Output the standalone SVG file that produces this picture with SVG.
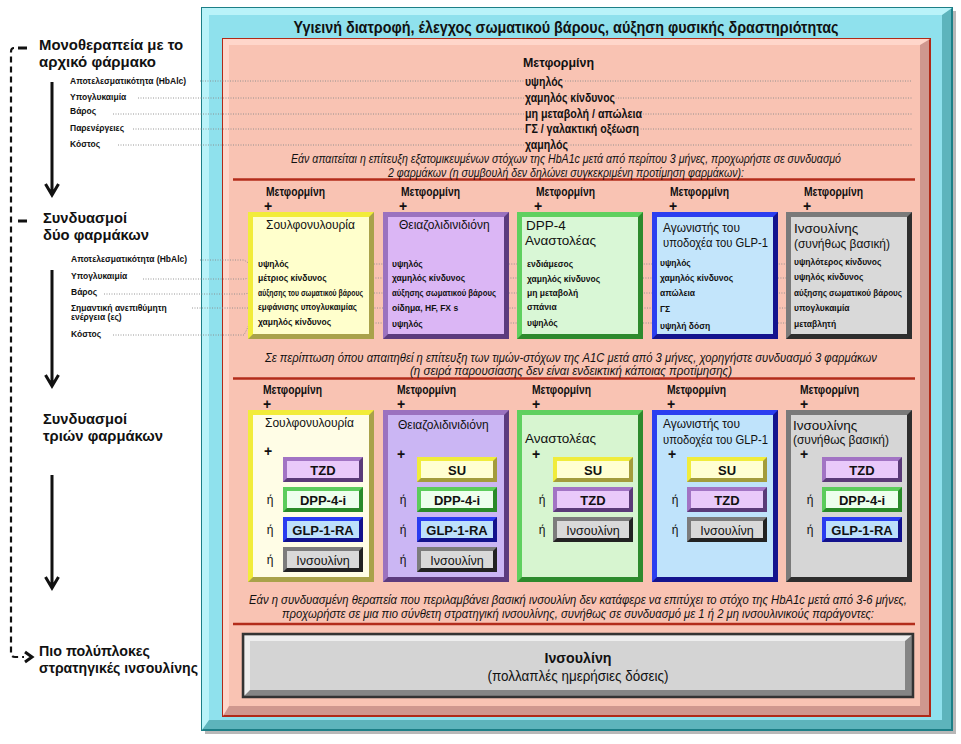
<svg xmlns="http://www.w3.org/2000/svg" width="961" height="744" viewBox="0 0 961 744">
<defs>
<style>
.s{font-family:"Liberation Sans",Arial,sans-serif;fill:#111}
.n{font-family:"Liberation Sans Narrow","Liberation Sans",Arial,sans-serif;fill:#111}
.b{font-weight:bold}
.i{font-style:italic}
.m{text-anchor:middle}
.stg{font-family:"Liberation Sans",Arial,sans-serif;font-weight:bold;font-size:15px;fill:#111}
.lb{font-family:"Liberation Sans",Arial,sans-serif;font-weight:bold;font-size:8.5px;fill:#111;stroke:#fff;stroke-width:3;paint-order:stroke;stroke-linejoin:round}
.mv{font-family:"Liberation Sans Narrow","Liberation Sans",Arial,sans-serif;font-weight:bold;font-size:12px;fill:#111;stroke:#f9c3b3;stroke-width:4;paint-order:stroke;stroke-linejoin:round}
.v{font-family:"Liberation Sans",Arial,sans-serif;font-weight:bold;font-size:8.5px;fill:#111;stroke:var(--f);stroke-width:3;paint-order:stroke;stroke-linejoin:round}
.met{font-family:"Liberation Sans Narrow","Liberation Sans",Arial,sans-serif;font-weight:bold;font-size:12px;fill:#111}
.pl{font-family:"Liberation Sans",Arial,sans-serif;font-weight:bold;font-size:14px;fill:#111;text-anchor:middle}
.or{font-family:"Liberation Sans",Arial,sans-serif;font-size:12px;fill:#111;text-anchor:middle}
.sb{font-family:"Liberation Sans",Arial,sans-serif;font-weight:bold;font-size:13px;fill:#111;text-anchor:middle}
.si2{font-family:"Liberation Sans",Arial,sans-serif;font-size:12.5px;fill:#111;text-anchor:middle}
.d{fill:var(--d)}
.l{fill:var(--l)}
.f{fill:var(--f)}
.y2{--d:#a9a24a;--l:#f2ec3a;--f:#ffffcc}
.p2{--d:#5c3b7e;--l:#9b72bf;--f:#dbb6f5}
.g2{--d:#2d8a2d;--l:#5fd05f;--f:#d9f7d6}
.b2{--d:#14148e;--l:#2c3ef0;--f:#c3e5fb}
.k2{--d:#2e2e2e;--l:#7a7a7a;--f:#d9d9d9}
.y3{--d:#a9a24a;--l:#f2ec3a;--f:#fffde6}
.p3{--d:#5c3b7e;--l:#9b72bf;--f:#cbb6f4}
.g3{--d:#2d8a2d;--l:#5fd05f;--f:#d7f5d0}
.b3{--d:#14148e;--l:#2c3ef0;--f:#bfe3fb}
.k3{--d:#2e2e2e;--l:#7a7a7a;--f:#d6d6d6}
.st{--d:#5a3a78;--l:#a274c4;--f:#e9c9fa}
.su{--d:#a39c3c;--l:#f0ec3c;--f:#ffffd2}
.sd{--d:#2a8a2a;--l:#5ccc5c;--f:#edffed}
.sg{--d:#12128c;--l:#2a3cf0;--f:#bde0fb}
.si{--d:#222222;--l:#7c7c7c;--f:#d9d9d9}
.dot{fill:none;stroke:#8a8a8a;stroke-width:0.9;stroke-dasharray:1 1.5}
.sep{stroke:#b32c1b;stroke-width:2.5}
.arr{fill:none;stroke:#111;stroke-width:3}
</style>
</defs>
<rect width="961" height="744" fill="#fff"/>

<g id="frame">
<rect x="205" y="11" width="751" height="723" fill="#b8b8b8"/>
<rect x="202" y="8" width="750" height="722" fill="#5db4bc" stroke="#1d7f87" stroke-width="2"/>
<polygon points="202,8 952,8 942,15 209,15 209,720 202,730" fill="#b9f3f9"/>
<rect x="209" y="15" width="733" height="705" fill="#8fe1ed"/>
<text class="n b m" x="566" y="33" font-size="16" textLength="545" lengthAdjust="spacingAndGlyphs">Υγιεινή διατροφή, έλεγχος σωματικού βάρους, αύξηση φυσικής δραστηριότητας</text>
</g>

<g id="main-panel">
<rect x="223" y="39" width="707" height="677" fill="#cf978e" stroke="#b02a18" stroke-width="2"/>
<polygon points="223,39 930,39 920,45 229,45 229,706 223,716" fill="#ffd6ca"/>
<rect x="229" y="45" width="691" height="661" fill="#f9c3b3"/>
<line class="sep" x1="233" y1="179.5" x2="915" y2="179.5"/>
<line class="sep" x1="233" y1="378.5" x2="915" y2="378.5"/>
<line class="sep" x1="233" y1="624" x2="915" y2="624"/>
</g>

<g id="stage-labels">
<text class="stg" x="39" y="50" textLength="144" lengthAdjust="spacingAndGlyphs">Μονοθεραπεία με το</text>
<text class="stg" x="39" y="67" textLength="117" lengthAdjust="spacingAndGlyphs">αρχικό φάρμακο</text>
<text class="stg" x="43" y="223" textLength="84" lengthAdjust="spacingAndGlyphs">Συνδυασμοί</text>
<text class="stg" x="43" y="240" textLength="106" lengthAdjust="spacingAndGlyphs">δύο φαρμάκων</text>
<text class="stg" x="43" y="424" textLength="84" lengthAdjust="spacingAndGlyphs">Συνδυασμοί</text>
<text class="stg" x="43" y="441" textLength="120" lengthAdjust="spacingAndGlyphs">τριών φαρμάκων</text>
<text class="stg" x="39" y="656" textLength="111" lengthAdjust="spacingAndGlyphs">Πιο πολύπλοκες</text>
<text class="stg" x="39" y="673" textLength="159" lengthAdjust="spacingAndGlyphs">στρατηγικές ινσουλίνης</text>
</g>

<g id="connectors">
<path d="M18,48 H27 M18,221 H27" class="arr" stroke-width="2.5"/>
<path d="M14,48 Q11,48 11,52 V653 Q11,657 15,657 H24" fill="none" stroke="#111" stroke-width="2.2" stroke-dasharray="6 4"/>
<path d="M25,652 L32,657 L25,662" class="arr" stroke-width="2.5"/>
<path d="M52,82 V194 M45.5,184 L52,195 L58.5,184" class="arr"/>
<path d="M52,270 V385 M45.5,375 L52,386 L58.5,375" class="arr"/>
<path d="M52,475 V587 M45.5,577 L52,588 L58.5,577" class="arr"/>
<polyline class="dot" points="200,81 912,81"/>
<polyline class="dot" points="138,98 912,98"/>
<polyline class="dot" points="113,114 912,114"/>
<polyline class="dot" points="133,129 912,129"/>
<polyline class="dot" points="118,145 912,145"/>
<polyline class="dot" points="200,260 244,260 250,264 906,264"/>
<polyline class="dot" points="143,279 244,279 250,278 906,278"/>
<polyline class="dot" points="104,294 244,294 250,293 906,293"/>
<polyline class="dot" points="192,308 906,308"/>
<polyline class="dot" points="113,335 244,335 250,323 906,323"/>
</g>

<g id="criteria-mono">
<text class="lb" x="70" y="84">Αποτελεσματικότητα (HbAlc)</text>
<text class="lb" x="70" y="100">Υπογλυκαιμία</text>
<text class="lb" x="70" y="113.5">Βάρος</text>
<text class="lb" x="70" y="131">Παρενέργειες</text>
<text class="lb" x="70" y="147">Κόστος</text>
</g>

<g id="criteria-dual">
<text class="lb" x="71" y="262">Αποτελεσματικότητα (HbAlc)</text>
<text class="lb" x="71" y="279">Υπογλυκαιμία</text>
<text class="lb" x="71" y="295">Βάρος</text>
<text class="lb" x="71" y="311">Σημαντική ανεπιθύμητη</text>
<text class="lb" x="71" y="319.5">ενέργεια (ες)</text>
<text class="lb" x="71" y="337">Κόστος</text>
</g>

<g id="metformin">
<text class="n b" x="523" y="66.5" font-size="13" textLength="71" lengthAdjust="spacingAndGlyphs">Μετφορμίνη</text>
<text class="mv" x="525" y="86" textLength="38" lengthAdjust="spacingAndGlyphs">υψηλός</text>
<text class="mv" x="525" y="102" textLength="90" lengthAdjust="spacingAndGlyphs">χαμηλός κίνδυνος</text>
<text class="mv" x="525" y="118" textLength="117" lengthAdjust="spacingAndGlyphs">μη μεταβολή / απώλεια</text>
<text class="mv" x="525" y="133" textLength="114" lengthAdjust="spacingAndGlyphs">ΓΣ / γαλακτική οξέωση</text>
<text class="mv" x="525" y="149" textLength="43" lengthAdjust="spacingAndGlyphs">χαμηλός</text>
<text class="n i m" x="566" y="163" font-size="12.5" textLength="550" lengthAdjust="spacingAndGlyphs">Εάν απαιτείται η επίτευξη εξατομικευμένων στόχων της HbA1c μετά από περίπου 3 μήνες, προχωρήστε σε συνδυασμό</text>
<text class="n i m" x="566" y="176.5" font-size="12.5" textLength="356" lengthAdjust="spacingAndGlyphs">2 φαρμάκων (η συμβουλή δεν δηλώνει συγκεκριμένη προτίμηση φαρμάκων):</text>
</g>

<g id="dual-header">
<text class="met" x="266" y="196" textLength="59" lengthAdjust="spacingAndGlyphs">Μετφορμίνη</text>
<text class="met" x="401" y="196" textLength="59" lengthAdjust="spacingAndGlyphs">Μετφορμίνη</text>
<text class="met" x="536" y="196" textLength="59" lengthAdjust="spacingAndGlyphs">Μετφορμίνη</text>
<text class="met" x="670" y="196" textLength="59" lengthAdjust="spacingAndGlyphs">Μετφορμίνη</text>
<text class="met" x="804" y="196" textLength="59" lengthAdjust="spacingAndGlyphs">Μετφορμίνη</text>
<text class="pl" x="268" y="211">+</text>
<text class="pl" x="403" y="211">+</text>
<text class="pl" x="538" y="211">+</text>
<text class="pl" x="673" y="211">+</text>
<text class="pl" x="807" y="211">+</text>
</g>

<g id="dual-su" class="y2">
<g transform="translate(248,212)"><rect class="d" width="126" height="127"/><polygon class="l" points="0,0 126,0 121,5 5,5 5,122 0,127"/><rect class="f" x="5" y="5" width="116" height="117"/></g>
<text class="s" x="266" y="229" font-size="12">Σουλφονυλουρία</text>
<text class="v" x="258" y="267">υψηλός</text>
<text class="v" x="258" y="281">μέτριος κίνδυνος</text>
<text class="v" x="258" y="296" font-size="7.5" textLength="105" lengthAdjust="spacingAndGlyphs">αύξησης του σωματικού βάρους</text>
<text class="v" x="258" y="310" font-size="7.5" textLength="99" lengthAdjust="spacingAndGlyphs">εμφάνισης υπογλυκαιμίας</text>
<text class="v" x="258" y="325">χαμηλός κίνδυνος</text>
</g>

<g id="dual-tzd" class="p2">
<g transform="translate(383,212)"><rect class="d" width="126" height="127"/><polygon class="l" points="0,0 126,0 121,5 5,5 5,122 0,127"/><rect class="f" x="5" y="5" width="116" height="117"/></g>
<text class="s" x="399" y="229" font-size="12">Θειαζολιδινιδιόνη</text>
<text class="v" x="392" y="267">υψηλός</text>
<text class="v" x="392" y="281">χαμηλός κίνδυνος</text>
<text class="v" x="392" y="296" font-size="7.5" textLength="104" lengthAdjust="spacingAndGlyphs">αύξησης σωματικού βάρους</text>
<text class="v" x="392" y="311">οίδημα, HF, FX s</text>
<text class="v" x="392" y="327">υψηλός</text>
</g>

<g id="dual-dpp4" class="g2">
<g transform="translate(517,212)"><rect class="d" width="126" height="127"/><polygon class="l" points="0,0 126,0 121,5 5,5 5,122 0,127"/><rect class="f" x="5" y="5" width="116" height="117"/></g>
<text class="s" x="526" y="230" font-size="13.5">DPP-4</text>
<text class="s" x="525" y="245" font-size="13.5">Αναστολέας</text>
<text class="v" x="527" y="267">ενδιάμεσος</text>
<text class="v" x="527" y="282">χαμηλός κίνδυνος</text>
<text class="v" x="527" y="296">μη μεταβολή</text>
<text class="v" x="527" y="310">σπάνια</text>
<text class="v" x="527" y="326">υψηλός</text>
</g>

<g id="dual-glp1" class="b2">
<g transform="translate(652,212)"><rect class="d" width="126" height="127"/><polygon class="l" points="0,0 126,0 121,5 5,5 5,122 0,127"/><rect class="f" x="5" y="5" width="116" height="117"/></g>
<text class="s" x="663" y="232" font-size="13" textLength="77" lengthAdjust="spacingAndGlyphs">Αγωνιστής του</text>
<text class="s" x="663" y="247" font-size="13" textLength="105" lengthAdjust="spacingAndGlyphs">υποδοχέα του GLP-1</text>
<text class="v" x="660" y="266">υψηλός</text>
<text class="v" x="660" y="281">χαμηλός κίνδυνος</text>
<text class="v" x="660" y="296">απώλεια</text>
<text class="v" x="660" y="312">ΓΣ</text>
<text class="v" x="660" y="329">υψηλή δόση</text>
</g>

<g id="dual-insulin" class="k2">
<g transform="translate(786,212)"><rect class="d" width="126" height="127"/><polygon class="l" points="0,0 126,0 121,5 5,5 5,122 0,127"/><rect class="f" x="5" y="5" width="116" height="117"/></g>
<text class="s" x="794" y="233" font-size="13.5">Ινσουλίνης</text>
<text class="s" x="794" y="247.5" font-size="13.5" textLength="96" lengthAdjust="spacingAndGlyphs">(συνήθως βασική)</text>
<text class="v" x="794" y="265">υψηλότερος κίνδυνος</text>
<text class="v" x="794" y="280">υψηλός κίνδυνος</text>
<text class="v" x="794" y="296" font-size="7.5" textLength="108" lengthAdjust="spacingAndGlyphs">αύξησης σωματικού βάρους</text>
<text class="v" x="794" y="311">υπογλυκαιμία</text>
<text class="v" x="794" y="327">μεταβλητή</text>
</g>

<g id="triple-note">
<text class="n i m" x="571" y="362" font-size="12.5" textLength="612" lengthAdjust="spacingAndGlyphs">Σε περίπτωση όπου απαιτηθεί η επίτευξη των τιμών-στόχων της A1C μετά από 3 μήνες, χορηγήστε συνδυασμό 3 φαρμάκων</text>
<text class="n i m" x="571" y="375" font-size="12.5" textLength="322" lengthAdjust="spacingAndGlyphs">(η σειρά παρουσίασης δεν είναι ενδεικτική κάποιας προτίμησης)</text>
</g>

<g id="triple-header">
<text class="met" x="263" y="394" textLength="59" lengthAdjust="spacingAndGlyphs">Μετφορμίνη</text>
<text class="met" x="397" y="394" textLength="59" lengthAdjust="spacingAndGlyphs">Μετφορμίνη</text>
<text class="met" x="532" y="394" textLength="59" lengthAdjust="spacingAndGlyphs">Μετφορμίνη</text>
<text class="met" x="667" y="394" textLength="59" lengthAdjust="spacingAndGlyphs">Μετφορμίνη</text>
<text class="met" x="800" y="394" textLength="59" lengthAdjust="spacingAndGlyphs">Μετφορμίνη</text>
<text class="pl" x="267" y="408.5">+</text>
<text class="pl" x="401" y="408.5">+</text>
<text class="pl" x="536" y="408.5">+</text>
<text class="pl" x="671" y="408.5">+</text>
<text class="pl" x="804" y="408.5">+</text>
</g>

<g id="triple-su" class="y3">
<g transform="translate(248,410)"><rect class="d" width="126" height="172"/><polygon class="l" points="0,0 126,0 121,5 5,5 5,167 0,172"/><rect class="f" x="5" y="5" width="116" height="162"/></g>
<text class="s" x="265" y="427" font-size="12">Σουλφονυλουρία</text>
<text class="pl" x="268" y="456">+</text>
<g class="st" transform="translate(283,457)"><rect class="d" width="80" height="25"/><polygon class="l" points="0,0 80,0 76,4 4,4 4,21 0,25"/><rect class="f" x="4" y="4" width="72" height="17"/></g>
<g class="sd" transform="translate(283,487)"><rect class="d" width="80" height="25"/><polygon class="l" points="0,0 80,0 76,4 4,4 4,21 0,25"/><rect class="f" x="4" y="4" width="72" height="17"/></g>
<g class="sg" transform="translate(283,517)"><rect class="d" width="80" height="25"/><polygon class="l" points="0,0 80,0 76,4 4,4 4,21 0,25"/><rect class="f" x="4" y="4" width="72" height="17"/></g>
<g class="si" transform="translate(283,547)"><rect class="d" width="80" height="25"/><polygon class="l" points="0,0 80,0 76,4 4,4 4,21 0,25"/><rect class="f" x="4" y="4" width="72" height="17"/></g>
<text class="sb" x="323" y="474.5">TZD</text>
<text class="sb" x="323" y="504.5">DPP-4-i</text>
<text class="sb" x="323" y="534.5">GLP-1-RA</text>
<text class="si2" x="323" y="564.5">Ινσουλίνη</text>
<text class="or" x="270" y="504">ή</text>
<text class="or" x="270" y="534">ή</text>
<text class="or" x="270" y="564">ή</text>
</g>

<g id="triple-tzd" class="p3">
<g transform="translate(383,410)"><rect class="d" width="126" height="172"/><polygon class="l" points="0,0 126,0 121,5 5,5 5,167 0,172"/><rect class="f" x="5" y="5" width="116" height="162"/></g>
<text class="s" x="398" y="429" font-size="12">Θειαζολιδινιδιόνη</text>
<text class="pl" x="401" y="459">+</text>
<g class="su" transform="translate(417,457)"><rect class="d" width="80" height="25"/><polygon class="l" points="0,0 80,0 76,4 4,4 4,21 0,25"/><rect class="f" x="4" y="4" width="72" height="17"/></g>
<g class="sd" transform="translate(417,487)"><rect class="d" width="80" height="25"/><polygon class="l" points="0,0 80,0 76,4 4,4 4,21 0,25"/><rect class="f" x="4" y="4" width="72" height="17"/></g>
<g class="sg" transform="translate(417,517)"><rect class="d" width="80" height="25"/><polygon class="l" points="0,0 80,0 76,4 4,4 4,21 0,25"/><rect class="f" x="4" y="4" width="72" height="17"/></g>
<g class="si" transform="translate(417,547)"><rect class="d" width="80" height="25"/><polygon class="l" points="0,0 80,0 76,4 4,4 4,21 0,25"/><rect class="f" x="4" y="4" width="72" height="17"/></g>
<text class="sb" x="457" y="474.5">SU</text>
<text class="sb" x="457" y="504.5">DPP-4-i</text>
<text class="sb" x="457" y="534.5">GLP-1-RA</text>
<text class="si2" x="457" y="564.5">Ινσουλίνη</text>
<text class="or" x="403" y="504">ή</text>
<text class="or" x="403" y="534">ή</text>
<text class="or" x="403" y="564">ή</text>
</g>

<g id="triple-dpp4" class="g3">
<g transform="translate(517,410)"><rect class="d" width="126" height="172"/><polygon class="l" points="0,0 126,0 121,5 5,5 5,167 0,172"/><rect class="f" x="5" y="5" width="116" height="162"/></g>
<text class="s" x="525" y="443" font-size="13.5">Αναστολέας</text>
<text class="pl" x="536" y="459">+</text>
<g class="su" transform="translate(553,457)"><rect class="d" width="80" height="25"/><polygon class="l" points="0,0 80,0 76,4 4,4 4,21 0,25"/><rect class="f" x="4" y="4" width="72" height="17"/></g>
<g class="st" transform="translate(553,487)"><rect class="d" width="80" height="25"/><polygon class="l" points="0,0 80,0 76,4 4,4 4,21 0,25"/><rect class="f" x="4" y="4" width="72" height="17"/></g>
<g class="si" transform="translate(553,517)"><rect class="d" width="80" height="25"/><polygon class="l" points="0,0 80,0 76,4 4,4 4,21 0,25"/><rect class="f" x="4" y="4" width="72" height="17"/></g>
<text class="sb" x="593" y="474.5">SU</text>
<text class="sb" x="593" y="504.5">TZD</text>
<text class="si2" x="593" y="534.5">Ινσουλίνη</text>
<text class="or" x="542" y="504">ή</text>
<text class="or" x="542" y="534">ή</text>
</g>

<g id="triple-glp1" class="b3">
<g transform="translate(652,410)"><rect class="d" width="126" height="172"/><polygon class="l" points="0,0 126,0 121,5 5,5 5,167 0,172"/><rect class="f" x="5" y="5" width="116" height="162"/></g>
<text class="s" x="663" y="427.5" font-size="13" textLength="77" lengthAdjust="spacingAndGlyphs">Αγωνιστής του</text>
<text class="s" x="663" y="444" font-size="13" textLength="105" lengthAdjust="spacingAndGlyphs">υποδοχέα του GLP-1</text>
<text class="pl" x="672" y="459">+</text>
<g class="su" transform="translate(687,457)"><rect class="d" width="80" height="25"/><polygon class="l" points="0,0 80,0 76,4 4,4 4,21 0,25"/><rect class="f" x="4" y="4" width="72" height="17"/></g>
<g class="st" transform="translate(687,487)"><rect class="d" width="80" height="25"/><polygon class="l" points="0,0 80,0 76,4 4,4 4,21 0,25"/><rect class="f" x="4" y="4" width="72" height="17"/></g>
<g class="si" transform="translate(687,517)"><rect class="d" width="80" height="25"/><polygon class="l" points="0,0 80,0 76,4 4,4 4,21 0,25"/><rect class="f" x="4" y="4" width="72" height="17"/></g>
<text class="sb" x="727" y="474.5">SU</text>
<text class="sb" x="727" y="504.5">TZD</text>
<text class="si2" x="727" y="534.5">Ινσουλίνη</text>
<text class="or" x="675" y="504">ή</text>
<text class="or" x="675" y="534">ή</text>
</g>

<g id="triple-insulin" class="k3">
<g transform="translate(786,410)"><rect class="d" width="126" height="172"/><polygon class="l" points="0,0 126,0 121,5 5,5 5,167 0,172"/><rect class="f" x="5" y="5" width="116" height="162"/></g>
<text class="s" x="793" y="429.5" font-size="13.5">Ινσουλίνης</text>
<text class="s" x="793" y="444" font-size="13.5" textLength="96" lengthAdjust="spacingAndGlyphs">(συνήθως βασική)</text>
<text class="pl" x="804" y="459">+</text>
<g class="st" transform="translate(822,457)"><rect class="d" width="80" height="25"/><polygon class="l" points="0,0 80,0 76,4 4,4 4,21 0,25"/><rect class="f" x="4" y="4" width="72" height="17"/></g>
<g class="sd" transform="translate(822,487)"><rect class="d" width="80" height="25"/><polygon class="l" points="0,0 80,0 76,4 4,4 4,21 0,25"/><rect class="f" x="4" y="4" width="72" height="17"/></g>
<g class="sg" transform="translate(822,517)"><rect class="d" width="80" height="25"/><polygon class="l" points="0,0 80,0 76,4 4,4 4,21 0,25"/><rect class="f" x="4" y="4" width="72" height="17"/></g>
<text class="sb" x="862" y="474.5">TZD</text>
<text class="sb" x="862" y="504.5">DPP-4-i</text>
<text class="sb" x="862" y="534.5">GLP-1-RA</text>
<text class="or" x="810" y="504">ή</text>
<text class="or" x="810" y="534">ή</text>
</g>

<g id="insulin-note">
<text class="n i m" x="578" y="604" font-size="12.5" textLength="658" lengthAdjust="spacingAndGlyphs">Εάν η συνδυασμένη θεραπεία που περιλαμβάνει βασική ινσουλίνη δεν κατάφερε να επιτύχει το στόχο της HbA1c μετά από 3-6 μήνες,</text>
<text class="n i m" x="578" y="617.5" font-size="12.5" textLength="592" lengthAdjust="spacingAndGlyphs">προχωρήστε σε μια πιο σύνθετη στρατηγική ινσουλίνης, συνήθως σε συνδυασμό με 1 ή 2 μη ινσουλινικούς παράγοντες:</text>
</g>

<g id="insulin-multi" style="--d:#858585;--l:#eeeeee;--f:#d4d4d4">
<g transform="translate(243,634)"><rect class="d" width="670" height="63" stroke="#333" stroke-width="2.5"/><polygon class="l" points="1.5,1.5 668.5,1.5 662,7 7,7 7,56 1.5,61.5"/><rect class="f" x="7" y="7" width="655" height="49"/></g>
<text class="n b m" x="578" y="663" font-size="14" textLength="67" lengthAdjust="spacingAndGlyphs">Ινσουλίνη</text>
<text class="n m" x="578" y="681" font-size="14" textLength="181" lengthAdjust="spacingAndGlyphs">(πολλαπλές ημερήσιες δόσεις)</text>
</g>
</svg>
